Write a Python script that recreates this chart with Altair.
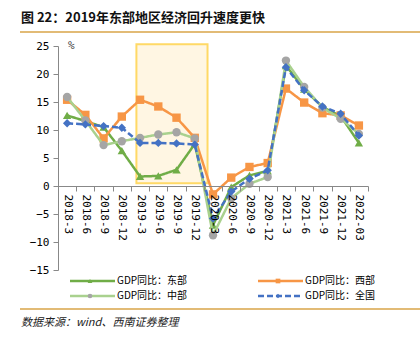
import altair as alt
import pandas as pd

quarters = ["2018-3", "2018-6", "2018-9", "2018-12", "2019-3", "2019-6", "2019-9", "2019-12",
            "2020-3", "2020-6", "2020-9", "2020-12", "2021-3", "2021-6", "2021-9", "2021-12", "2022-03"]
east = [12.6, 11.6, 10.5, 6.3, 1.7, 1.8, 2.9, 7.5, -7.0, -0.2, 1.9, 2.7, 21.5, 17.3, 14.1, 12.5, 7.7]
west = [15.4, 12.7, 8.5, 12.4, 15.4, 14.2, 12.2, 8.6, -1.5, 1.5, 3.4, 4.1, 17.4, 14.9, 13.0, 12.6, 10.8]
central = [15.9, 11.7, 7.3, 8.0, 8.6, 9.2, 9.6, 8.5, -8.8, -2.2, 0.4, 1.6, 22.4, 17.7, 14.0, 12.0, 9.3]
national = [11.2, 11.0, 10.7, 10.4, 7.7, 7.7, 7.6, 7.4, -5.8, -1.0, 1.3, 2.8, 21.2, 17.1, 14.2, 12.9, 9.0]

series_names = ["GDP同比：东部", "GDP同比：西部", "GDP同比：中部", "GDP同比：全国"]
series_values = [east, west, central, national]
line_colors = ["#70AD47", "#F79646", "#A9D18E", "#4472C4"]
marker_colors = ["#70AD47", "#F79646", "#A5A5A5", "#4472C4"]
marker_shapes = ["triangle-up", "square", "circle", "diamond"]
dashes = [[1, 0], [1, 0], [1, 0], [6, 3]]

y_ticks = [-15, -10, -5, 0, 5, 10, 15, 20, 25]
highlight = {"start": ["2019-3"], "end": ["2020-3"], "top": [25.3], "bottom": [0.5]}

title_text = "图 22：2019年东部地区经济回升速度更快"
source_text = "数据来源：wind、西南证券整理"

W, H = 310, 224
Y_MIN, Y_MAX = -15, 25

xscale = alt.Scale(type="band", domain=quarters, paddingInner=0, paddingOuter=0)
yscale = alt.Scale(domain=[Y_MIN, Y_MAX], nice=False, zero=False)

MONO = "DejaVu Sans Mono"
CJK = "Noto Sans CJK SC"

x_axis = alt.Axis(orient="bottom", offset=-(H * (0 - Y_MIN) / (Y_MAX - Y_MIN)),
                  labelAngle=90, labelAlign="left", labelBaseline="middle",
                  labelFont=MONO, labelFontSize=11, labelColor="#000",
                  labelPadding=3, tickBand="extent", tickSize=5,
                  tickColor="#888", domainColor="#888", labelOverlap=False, grid=False)
y_axis = alt.Axis(values=y_ticks, labelFont=MONO, labelFontSize=11, labelColor="#000",
                  tickSize=5, tickColor="#888", domainColor="#888", grid=False,
                  labelPadding=4, labelOverlap=False, labelBound=False, labelFlush=False)

hl = alt.Chart(pd.DataFrame(highlight)).mark_rect(
    fill="#FFF6E3", stroke="#FFD966", strokeWidth=2
).encode(
    x=alt.X("start:N", scale=xscale, sort=quarters, bandPosition=0.3, title=None, axis=x_axis),
    x2=alt.X2("end:N", bandPosition=0.2),
    y=alt.Y("top:Q", scale=yscale, title=None, axis=y_axis),
    y2="bottom:Q",
)

layers = [hl]
for name, vals, lc, mc, shp, dsh in zip(series_names, series_values, line_colors,
                                        marker_colors, marker_shapes, dashes):
    df = pd.DataFrame({"q": quarters, "v": vals, "s": name})
    enc = dict(
        x=alt.X("q:N", scale=xscale, sort=quarters, bandPosition=0.5, title=None, axis=x_axis),
        y=alt.Y("v:Q", scale=yscale, title=None, axis=y_axis),
    )
    layers.append(alt.Chart(df).mark_line(color=lc, strokeWidth=2.5, strokeDash=dsh).encode(**enc))
    layers.append(alt.Chart(df).mark_point(shape=shp, filled=True, color=mc, size=70, opacity=1).encode(**enc))

# "%" unit label
layers.append(alt.Chart(pd.DataFrame({"t": ["%"]})).mark_text(
    font=MONO, fontSize=11, color="#444", align="left", baseline="middle"
).encode(text="t:N", x=alt.value(10), y=alt.value(0)))

# title and source
layers.append(alt.Chart(pd.DataFrame({"t": [title_text]})).mark_text(
    font=CJK, fontSize=13, fontWeight="bold", color="#111", align="left", baseline="middle"
).encode(text="t:N", x=alt.value(-37), y=alt.value(-28)))
layers.append(alt.Chart(pd.DataFrame({"t": [source_text]})).mark_text(
    font=CJK, fontSize=11, fontStyle="italic", color="#222", align="left", baseline="middle"
).encode(text="t:N", x=alt.value(-37), y=alt.value(277)))
for yy in [-14, 263]:
    layers.append(alt.Chart(pd.DataFrame({"a": [0]})).mark_rule(color="#D9A548", strokeWidth=1.5).encode(
        x=alt.value(-38), x2=alt.value(362), y=alt.value(yy)))

# manual legend
leg_x = [12, 12, 200, 200]
leg_y = [235, 250, 235, 250]
leg_order = [0, 2, 1, 3]
for pos, idx in enumerate(leg_order):
    lx, ly = leg_x[pos], leg_y[pos]
    d = pd.DataFrame({"t": [series_names[idx]]})
    layers.append(alt.Chart(d).mark_rule(color=line_colors[idx], strokeWidth=2.5,
                                         strokeDash=dashes[idx]).encode(
        x=alt.value(lx), x2=alt.value(lx + 45), y=alt.value(ly)))
    layers.append(alt.Chart(d).mark_point(shape=marker_shapes[idx], filled=True,
                                          color=marker_colors[idx], size=22, opacity=1).encode(
        x=alt.value(lx + 20), y=alt.value(ly)))
    layers.append(alt.Chart(d).mark_text(font=CJK, fontSize=10, color="#000", align="left",
                                         baseline="middle").encode(
        text="t:N", x=alt.value(lx + 47), y=alt.value(ly)))

chart = alt.layer(*layers).properties(
    width=W, height=H,
    autosize=alt.AutoSizeParams(type="none"),
    padding={"left": 58, "top": 46, "right": 52, "bottom": 67},
    background="white",
).configure_view(stroke=None).configure_axis(labelOverlap=False)

chart.save("out.html", embed_options={"renderer": "svg", "actions": False})
